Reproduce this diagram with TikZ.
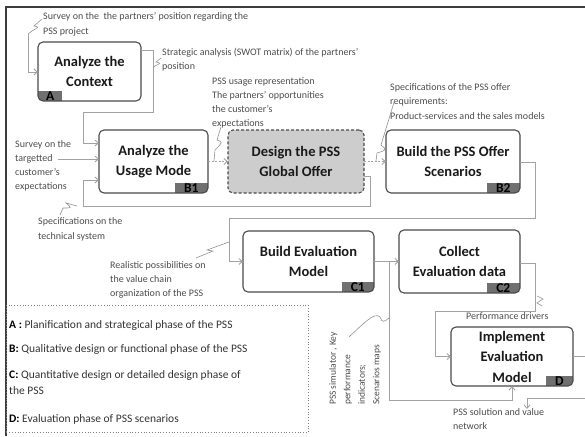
\documentclass[tikz,border=0pt]{standalone}
\usepackage{fontspec}
\setmainfont{Carlito}
\usetikzlibrary{arrows.meta}

\definecolor{rimgray}{HTML}{4A4A4A}
\definecolor{linkgray}{HTML}{A2A2A2}
\definecolor{notegray}{HTML}{4C4C4C}
\definecolor{tagfill}{HTML}{707070}
\definecolor{designfill}{HTML}{CDCDCD}
\definecolor{framegray}{HTML}{3C3C3C}
\definecolor{titleink}{HTML}{1A1A1A}
\definecolor{legendink}{HTML}{333333}

\tikzset{
  box/.style={draw=rimgray, line width=1.1pt, rounded corners=5pt, fill=white,
    outer sep=0pt, inner sep=2pt, align=center, text=titleink,
    font=\fontsize{14.5}{20.5}\selectfont\bfseries},
  tagL/.style={path picture={\fill[tagfill, sharp corners] (path picture bounding box.south west) rectangle ++(#1,-10);}},
  tagR/.style={path picture={\fill[tagfill, sharp corners] (path picture bounding box.south east) rectangle ++(-#1,-10);}},
  tagtext/.style={inner sep=0pt, minimum height=10pt, text height=8.5pt, text depth=0pt,
    font=\fontsize{13.5}{13.5}\selectfont\bfseries, text=black},
  link/.style={draw=linkgray, line width=0.9pt},
  tip/.style={-{Straight Barb[length=3.5pt,width=6pt]}},
  dotlink/.style={dash pattern=on 2pt off 1.5pt},
  callout/.style={draw=linkgray!90!black, line width=0.6pt},
  note/.style={anchor=north west, inner sep=0pt, align=left, text=notegray,
    font=\fontsize{10}{14}\selectfont},
  legendline/.style={anchor=north west, inner sep=0pt, align=left, text=legendink,
    font=\fontsize{11.5}{16}\selectfont},
  frameline/.style={draw=framegray, line width=1.2pt},
}

\begin{document}
\begin{tikzpicture}[x=1pt,y=-1pt]
\useasboundingbox (0,0) rectangle (585,436);

% outer frame
\draw[frameline] (585,7) -- (6,7) -- (6,436);

% process boxes
\node[box, tagL=24, minimum width=103pt, minimum height=59pt] (ctx) at (89.5,71.5) {Analyze the\\Context};
\node[box, tagR=33, minimum width=109pt, minimum height=63pt] (usage) at (153.5,161.5) {Analyze the\\Usage Mode};
\node[box, fill=designfill, dash pattern=on 3pt off 2pt, minimum width=136pt, minimum height=63pt] (design) at (296,161.5) {Design the PSS\\Global Offer};
\node[box, tagR=33, minimum width=134pt, minimum height=63pt] (offer) at (453,161.5) {Build the PSS Offer\\Scenarios};
\node[box, tagR=32, minimum width=131pt, minimum height=61pt] (eval) at (308.5,261.5) {Build Evaluation\\Model};
\node[box, tagR=33, minimum width=121pt, minimum height=63pt] (collect) at (459.5,261.5) {Collect\\Evaluation data};
\node[box, tagR=27, minimum width=122pt, minimum height=59pt] (impl) at (512,356.5) {Implement\\Evaluation\\Model};

% phase tags
\node[tagtext, anchor=south west, minimum width=24pt] (ctxTag) at (ctx.south west) {A};
\node[tagtext, anchor=south east, minimum width=33pt] (usageTag) at (usage.south east) {B1};
\node[tagtext, anchor=south east, minimum width=33pt] (offerTag) at (offer.south east) {B2};
\node[tagtext, anchor=south east, minimum width=32pt] (evalTag) at (eval.south east) {C1};
\node[tagtext, anchor=south east, minimum width=33pt] (collectTag) at (collect.south east) {C2};
\node[tagtext, anchor=south east, minimum width=27pt] (implTag) at (impl.south east) {D};

% free ends of connectors
\coordinate (ctxIn) at (28,34);
\coordinate (usageIn) at (58,159);
\coordinate (split) at (389,261.5);
\coordinate (implOut) at (585,356.5);
\coordinate (netIn) at (585,398);
\coordinate (netEnd) at (527,409);

% connectors
\draw[link, tip] (ctxIn) |- (ctx.west |- 0,72);
\draw[link, tip] (ctx.east |- 0,50) -| (153,112) -| (83,143) -- (usage.west |- 0,143);
\draw[link, tip] (usageIn) -- (usage.west |- usageIn);
\draw[link, tip] (design.east |- 0,176) -| (370,206) -| (83,180) -- (usage.west |- 0,180);
\draw[link, dotlink, tip] (usage.east) -- (design.west);
\draw[link, dotlink, tip] (design.east) -- (offer.west);
\draw[link, tip] (offer.east |- 0,162) -| (535,218) -| (229,261.5) -- (eval.west);
\draw[link, tip] (eval.east) -- (collect.west);
\draw[link, tip] (split) |- (impl.south |- 0,400) -- (impl.south);
\draw[link, tip] (collect.east |- 0,263) -| (535,311) -| (435,356.5) -- (impl.west);
\draw[link] (impl.east) -- (implOut);
\draw[link, tip] (netIn) -| (netEnd);

% flow annotations
\node[note, font=\fontsize{10}{15}\selectfont] (surveyPartners) at (43,12) {Survey on the\ \ the partners’ position regarding the\\PSS project};
\node[note] (swot) at (162,48) {Strategic analysis (SWOT matrix) of the partners’\\position};
\node[note] (usageOut) at (212,77) {PSS usage representation\\The partners’ opportunities\\the customer’s\\expectations};
\node[note, font=\fontsize{10}{14.5}\selectfont] (offerSpec) at (390,83) {Specifications of the PSS offer\\requirements:\\Product-services and the sales models};
\node[note] (surveyCustomer) at (15,140) {Survey on the\\targetted\\customer’s\\expectations};
\node[note, font=\fontsize{10}{15}\selectfont] (techSpec) at (38,217) {Specifications on the\\technical system};
\node[note] (valueChain) at (110,261) {Realistic possibilities on\\the value chain\\organization of the PSS};
\node[note, rotate=90, font=\fontsize{9.5}{14.5}\selectfont] (simulator) at (329,405) {PSS simulator , Key\\performance\\indicators;\\Scenarios maps};
\node[note] (drivers) at (466,312) {Performance drivers};
\node[note] (network) at (453,408) {PSS solution and value\\network};

% callout squiggles tying annotations to their flows
\draw[callout] (42,19) -- (34,26) .. controls (39,27) .. (32,31) -- (28,34);
\draw[callout] (161,58) -- (156,62) .. controls (161,63) .. (155,66) -- (153,68);
\draw[callout] (221,127) -- (217,140) .. controls (223,142) .. (215,150) -- (214,161);
\draw[callout] (395,99) -- (381,145) .. controls (387,150) .. (377,153) -- (376,161);
\draw[callout] (77,206) -- (66,203) .. controls (72,208) .. (63,208) -- (60,215);
\draw[callout] (196,258) -- (213,251) -- (207,250) -- (229,242);
\draw[callout] (349,337) .. controls (362,325) and (375,311) .. (380,317) .. controls (382,323) and (384,322) .. (389,318);
\draw[callout] (537,296) -- (543,299) -- (537,303) -- (542,306);

% phase legend
\node[draw=gray, dotted, line width=0.8pt, minimum width=302pt, minimum height=127pt,
  anchor=north west, inner sep=0pt] (legend) at (6,305) {};
\node[legendline] (legA) at (9,320.5) {\textbf{\color{black}A :} Planification and strategical phase of the PSS};
\node[legendline] (legB) at (9,344.5) {\textbf{\color{black}B:} Qualitative design or functional phase of the PSS};
\node[legendline] (legC) at (9,370.5) {\textbf{\color{black}C:} Quantitative design or detailed design phase of\\the PSS};
\node[legendline] (legD) at (9,414.5) {\textbf{\color{black}D:} Evaluation phase of PSS scenarios};
\end{tikzpicture}
\end{document}
